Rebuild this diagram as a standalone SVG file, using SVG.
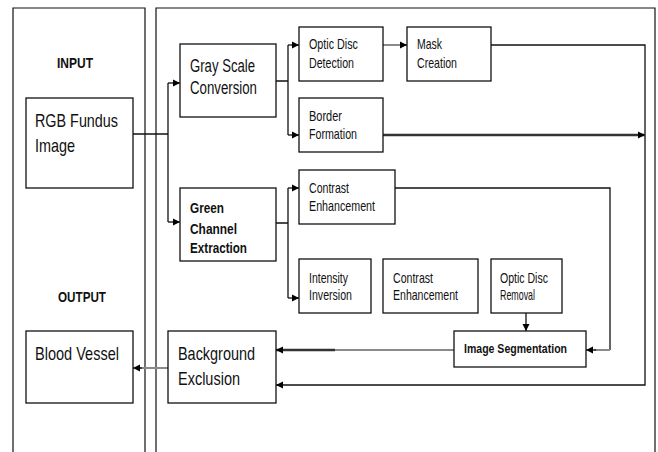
<svg xmlns="http://www.w3.org/2000/svg" width="658" height="452" viewBox="0 0 658 452">
<defs>
<style>
.box{fill:#fff;stroke:#111;stroke-width:1.3}
.panel{fill:none;stroke:#111;stroke-width:1.2}
.t{font-family:"Liberation Sans",Arial,sans-serif;fill:#111}
.big{font-size:18.5px}
.mid{font-size:17.5px}
.sm{font-size:14.5px}
.b{font-weight:bold}
.ln{fill:none;stroke:#111;stroke-width:1.3}
.gr{fill:none;stroke:#8a8a8a;stroke-width:2}
.thick{fill:none;stroke:#333;stroke-width:2.5}
</style>
<marker id="ah" viewBox="0 0 10 10" refX="10" refY="5" markerWidth="7" markerHeight="8" markerUnits="userSpaceOnUse" orient="auto">
<path d="M0,0 L10,5 L0,10 z" fill="#000"/>
</marker>
</defs>
<rect width="658" height="452" fill="#fff"/>
<g id="panels">
<path class="panel" d="M13,460 V8 H145 V460"/>
<path class="panel" d="M156,460 V8 H655 V460"/>
<text class="t b" x="75" y="68" font-size="15" text-anchor="middle" textLength="36" lengthAdjust="spacingAndGlyphs">INPUT</text>
<text class="t b" x="82" y="302" font-size="15.5" text-anchor="middle" textLength="48" lengthAdjust="spacingAndGlyphs">OUTPUT</text>
</g>
<g id="connectors">
<path class="ln" d="M133,134 H168"/>
<path class="ln" d="M168,83 V222"/>
<path class="ln" d="M168,83 H180" marker-end="url(#ah)"/>
<path class="ln" d="M168,222 H180" marker-end="url(#ah)"/>
<path class="ln" d="M276,81 H288 M288,45 V135"/>
<path class="ln" d="M288,45 H299" marker-end="url(#ah)"/>
<path class="ln" d="M288,135 H299" marker-end="url(#ah)"/>
<path class="ln" d="M276,223 H288 M288,188 V298"/>
<path class="ln" d="M288,188 H299" marker-end="url(#ah)"/>
<path class="ln" d="M288,298 H299" marker-end="url(#ah)"/>
<path class="gr" d="M383,45 H401"/>
<path class="ln" d="M400,45 H407" marker-end="url(#ah)"/>
<path class="ln" d="M491,45 H645 V385 H276" stroke-width="1.5" marker-end="url(#ah)"/>
<path class="thick" d="M383,135 H645" marker-end="url(#ah)"/>
<path class="ln" d="M395,188 H610 V350"/>
<path class="gr" d="M610,350 H594"/>
<path class="ln" d="M596,350 H586" marker-end="url(#ah)"/>
<path class="gr" d="M454,350 H333" stroke="#666"/>
<path class="thick" d="M335,350 H276" stroke="#222" marker-end="url(#ah)"/>
<path class="gr" d="M168,368 H140"/>
<path class="ln" d="M142,368 H133" marker-end="url(#ah)"/>
<path class="ln" d="M526,313 V331" marker-end="url(#ah)"/>
</g>
<g id="rgb">
<rect class="box" x="26" y="98" width="107" height="90"/>
<text class="t big" x="35" y="127" textLength="83" lengthAdjust="spacingAndGlyphs">RGB Fundus</text>
<text class="t big" x="35" y="152" textLength="40" lengthAdjust="spacingAndGlyphs">Image</text>
</g>
<g id="gray">
<rect class="box" x="180" y="44" width="96" height="73"/>
<text class="t mid" x="190" y="72" textLength="65" lengthAdjust="spacingAndGlyphs">Gray Scale</text>
<text class="t mid" x="190" y="94" textLength="67" lengthAdjust="spacingAndGlyphs">Conversion</text>
</g>
<g id="green">
<rect class="box" x="180" y="188" width="96" height="73"/>
<text class="t b" x="190" y="213" font-size="15.5" textLength="34" lengthAdjust="spacingAndGlyphs">Green</text>
<text class="t b" x="190" y="234" font-size="15.5" textLength="47" lengthAdjust="spacingAndGlyphs">Channel</text>
<text class="t b" x="190" y="253" font-size="15.5" textLength="57" lengthAdjust="spacingAndGlyphs">Extraction</text>
</g>
<g id="optic">
<rect class="box" x="299" y="27" width="84" height="54"/>
<text class="t sm" x="309" y="49" textLength="49" lengthAdjust="spacingAndGlyphs">Optic Disc</text>
<text class="t sm" x="309" y="68" textLength="45" lengthAdjust="spacingAndGlyphs">Detection</text>
</g>
<g id="mask">
<rect class="box" x="407" y="27" width="84" height="54"/>
<text class="t sm" x="417" y="49" textLength="25" lengthAdjust="spacingAndGlyphs">Mask</text>
<text class="t sm" x="417" y="68" textLength="40" lengthAdjust="spacingAndGlyphs">Creation</text>
</g>
<g id="border">
<rect class="box" x="299" y="98" width="84" height="54"/>
<text class="t sm" x="309" y="121" textLength="33" lengthAdjust="spacingAndGlyphs">Border</text>
<text class="t sm" x="309" y="139" textLength="48" lengthAdjust="spacingAndGlyphs">Formation</text>
</g>
<g id="contrast1">
<rect class="box" x="299" y="170" width="96" height="54"/>
<text class="t sm" x="309" y="193" textLength="40" lengthAdjust="spacingAndGlyphs">Contrast</text>
<text class="t sm" x="309" y="211" textLength="66" lengthAdjust="spacingAndGlyphs">Enhancement</text>
</g>
<g id="intensity">
<rect class="box" x="299" y="259" width="72" height="54"/>
<text class="t sm" x="309" y="283" textLength="39" lengthAdjust="spacingAndGlyphs">Intensity</text>
<text class="t sm" x="309" y="300" textLength="43" lengthAdjust="spacingAndGlyphs">Inversion</text>
</g>
<g id="contrast2">
<rect class="box" x="383" y="259" width="95" height="54"/>
<text class="t sm" x="393" y="283" textLength="40" lengthAdjust="spacingAndGlyphs">Contrast</text>
<text class="t sm" x="393" y="300" textLength="65" lengthAdjust="spacingAndGlyphs">Enhancement</text>
</g>
<g id="removal">
<rect class="box" x="491" y="259" width="71" height="54"/>
<text class="t sm" x="500" y="283" textLength="48" lengthAdjust="spacingAndGlyphs">Optic Disc</text>
<text class="t sm" x="500" y="300" textLength="35" lengthAdjust="spacingAndGlyphs">Removal</text>
</g>
<g id="segmentation">
<rect class="box" x="454" y="331" width="132" height="36"/>
<text class="t b" x="464" y="353" font-size="13.5" textLength="103" lengthAdjust="spacingAndGlyphs">Image Segmentation</text>
</g>
<g id="background">
<rect class="box" x="168" y="331" width="108" height="72"/>
<text class="t big" x="178" y="360" textLength="77" lengthAdjust="spacingAndGlyphs">Background</text>
<text class="t big" x="178" y="385" textLength="62" lengthAdjust="spacingAndGlyphs">Exclusion</text>
</g>
<g id="blood">
<rect class="box" x="26" y="331" width="107" height="72"/>
<text class="t big" x="35" y="360" textLength="84" lengthAdjust="spacingAndGlyphs">Blood Vessel</text>
</g>
</svg>
